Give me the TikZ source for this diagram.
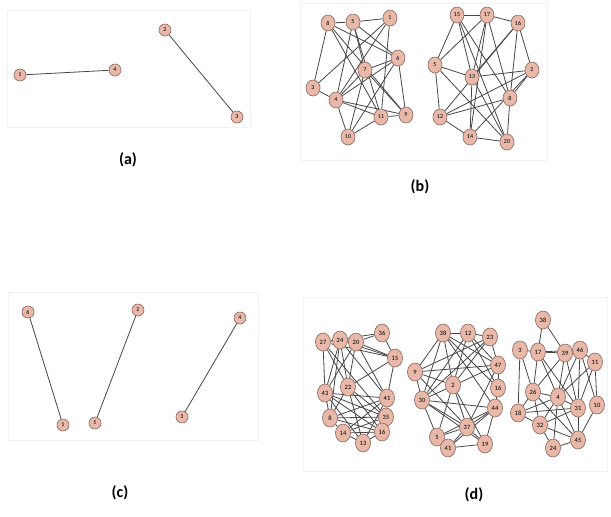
\documentclass[tikz,border=0pt]{standalone}
\usepackage{fontspec}
\setmainfont{Carlito}
\usetikzlibrary{shapes.geometric,backgrounds}
\definecolor{nfill}{RGB}{232,184,168}
\definecolor{ndraw}{RGB}{140,100,92}
\definecolor{edgec}{RGB}{70,70,70}
\definecolor{framec}{RGB}{242,242,242}
\tikzset{
  sn/.style={circle,draw=ndraw,fill=nfill,line width=0.6pt,minimum size=12pt,inner sep=0pt,font=\fontsize{6}{6}\selectfont},
  mn/.style={ellipse,draw=ndraw,fill=nfill,line width=0.6pt,minimum width=14pt,minimum height=16pt,inner sep=0pt,font=\fontsize{6}{6}\selectfont},
  dn/.style={ellipse,draw=ndraw,fill=nfill,line width=0.6pt,minimum width=15pt,minimum height=18pt,inner sep=0pt,font=\fontsize{6.5}{6.5}\selectfont},
  ed/.style={draw=edgec,line width=0.8pt},
  frame/.style={draw=framec,line width=0.8pt},
  lab/.style={font=\bfseries\fontsize{16}{16}\selectfont}
}
\begin{document}
\begin{tikzpicture}[x=1pt,y=-1pt]
\useasboundingbox (0,0) rectangle (611,517);
% frames
\draw[frame] (7,10) rectangle (250,127);
\draw[frame] (300,3) rectangle (547,160);
\draw[frame] (8,292) rectangle (258,440);
\draw[frame] (303,297) rectangle (607,471);
% labels
\node[lab] (la) at (128,160) {(a)};
\node[lab] (lb) at (420,187) {(b)};
\node[lab] (lc) at (120,493) {(c)};
\node[lab] (ld) at (474,495) {(d)};
% (a)
\node[sn] (a1) at (20,75) {1};
\node[sn] (a4) at (115,70) {4};
\node[sn] (a2) at (165,30) {2};
\node[sn] (a3) at (237,117) {3};
% (c)
\node[sn] (c6) at (28,312) {6};
\node[sn] (c1) at (63,425) {1};
\node[sn] (c2) at (138,310) {2};
\node[sn] (c5) at (95,423) {5};
\node[sn] (c4) at (240,318) {4};
\node[sn] (c3) at (182,417) {3};
% (b) left
\foreach \n/\x/\y/\t in {b1/328/23/8,b2/353/22/5,b3/390/18/1,b4/398/58/6,b5/365/70/7,b6/313/88/3,b7/336/100/4,b8/381/117/11,b9/406/115/9,b10/348/137/10}
  \node[mn] (\n) at (\x,\y) {\t};
% (b) right
\foreach \n/\x/\y/\t in {e1/457/15/15,e2/487/15/17,e3/518/23/16,e4/435/65/5,e5/472/77/13,e6/532/70/2,e7/510/98/8,e8/440/117/12,e9/470/137/14,e10/507/142/20}
  \node[mn] (\n) at (\x,\y) {\t};
% (d) cluster 1
\foreach \n/\x/\y/\t in {f1/323/342/27,f2/340/340/24,f3/356/342/20,f4/382/333/36,f5/395/358/15,f6/348/387/22,f7/325/393/43,f8/387/398/41,f9/330/418/8,f10/386/417/35,f11/343/433/14,f12/382/432/16,f13/363/443/13}
  \node[dn] (\n) at (\x,\y) {\t};
% (d) cluster 2
\foreach \n/\x/\y/\t in {g1/443/333/38,g2/468/333/12,g3/490/337/23,g4/415/372/9,g5/453/385/2,g6/498/365/47,g7/498/388/16,g8/422/400/30,g9/495/408/44,g10/467/427/37,g11/437/437/5,g12/448/448/41,g13/485/444/19}
  \node[dn] (\n) at (\x,\y) {\t};
% (d) cluster 3
\foreach \n/\x/\y/\t in {h1/543/320/38,h2/520/350/3,h3/538/352/17,h4/565/353/39,h5/580/350/46,h6/595/362/11,h7/533/392/26,h8/558/397/4,h9/518/413/18,h10/578/408/31,h11/597/405/10,h12/540/425/32,h13/578/440/45,h14/553/448/24}
  \node[dn] (\n) at (\x,\y) {\t};
% edges behind nodes
\begin{scope}[on background layer]
\draw[ed] (a1) -- (a4);
\draw[ed] (a2) -- (a3);
\draw[ed] (c6) -- (c1);
\draw[ed] (c2) -- (c5);
\draw[ed] (c4) -- (c3);
\foreach \u/\v in {b1/b2,b2/b3,b1/b4,b1/b8,b1/b6,b2/b5,b2/b4,b2/b7,b3/b6,b3/b7,b3/b8,b4/b5,b4/b7,b4/b10,b4/b9,b5/b7,b5/b9,b6/b7,b7/b8,b7/b9,b7/b10,b8/b9,b8/b10,b1/b9,b5/b10,b2/b8}
  \draw[ed] (\u) -- (\v);
\foreach \u/\v in {e1/e2,e2/e3,e1/e4,e1/e5,e1/e10,e1/e7,e2/e4,e2/e7,e2/e9,e3/e6,e3/e5,e3/e8,e4/e5,e4/e8,e5/e6,e5/e9,e5/e10,e6/e7,e6/e9,e7/e8,e7/e10,e8/e9,e9/e10,e4/e10,e2/e5,e3/e7,e8/e6}
  \draw[ed] (\u) -- (\v);
\foreach \u/\v in {f1/f2,f2/f3,f3/f4,f4/f5,f1/f7,f7/f9,f9/f11,f11/f13,f13/f12,f12/f10,f10/f8,f8/f5,f1/f6,f2/f6,f3/f6,f2/f8,f3/f8,f1/f10,f1/f5,f2/f5,f3/f5,f6/f5,f6/f10,f6/f12,f6/f13,f7/f10,f7/f8,f9/f10,f9/f12,f9/f8,f11/f10,f11/f8,f6/f9,f7/f12,f13/f8,f11/f12,f7/f13,f2/f7,f3/f7,f2/f9,f1/f4}
  \draw[ed] (\u) -- (\v);
\foreach \u/\v in {g1/g2,g2/g3,g1/g4,g4/g8,g8/g11,g11/g12,g12/g10,g10/g13,g13/g9,g9/g7,g7/g6,g6/g3,g1/g5,g1/g6,g1/g7,g1/g9,g1/g8,g2/g5,g2/g6,g2/g7,g3/g5,g3/g8,g4/g5,g4/g6,g4/g10,g5/g10,g5/g11,g5/g13,g6/g8,g6/g10,g8/g10,g8/g9,g8/g13,g11/g9,g11/g10,g12/g9,g12/g13,g10/g9,g3/g4,g2/g8}
  \draw[ed] (\u) -- (\v);
\foreach \u/\v in {h1/h3,h1/h4,h2/h3,h3/h4,h4/h5,h5/h6,h2/h9,h2/h7,h3/h7,h3/h8,h3/h10,h4/h7,h4/h8,h4/h10,h5/h8,h5/h10,h5/h11,h6/h10,h6/h11,h6/h8,h7/h8,h7/h9,h7/h12,h8/h9,h8/h10,h8/h12,h8/h13,h9/h10,h9/h12,h10/h12,h10/h13,h12/h13,h12/h14,h13/h14,h8/h14,h11/h13,h3/h5,h7/h13}
  \draw[ed] (\u) -- (\v);
\end{scope}
\end{tikzpicture}
\end{document}
